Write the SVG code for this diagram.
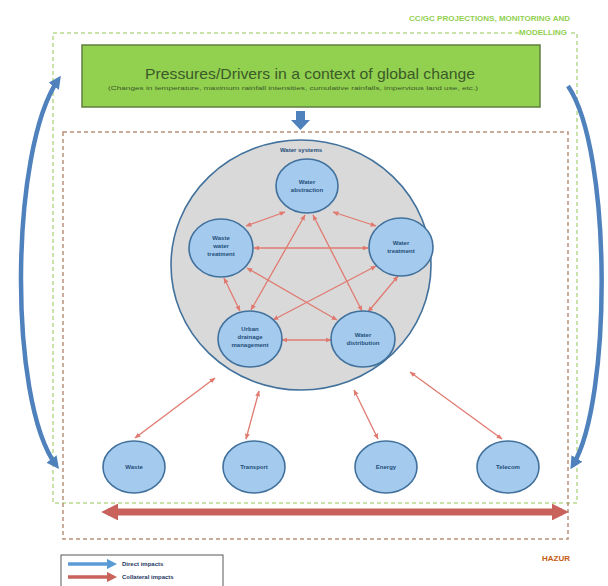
<svg xmlns="http://www.w3.org/2000/svg" width="608" height="586" viewBox="0 0 608 586">
<defs>
<style>
.lbl{font-family:"Liberation Sans",Arial,sans-serif;font-weight:bold;fill:#1f4e79;font-size:6px;text-anchor:middle}
.node{fill:#a4cbee;stroke:#41719c;stroke-width:1.6}
.rel{stroke:#e07a70;stroke-width:1.3;fill:none;marker-start:url(#rh);marker-end:url(#rh)}
</style>
<marker id="rh" viewBox="0 0 10 10" refX="9" refY="5" markerWidth="6" markerHeight="6" markerUnits="userSpaceOnUse" orient="auto-start-reverse"><path d="M0,1 L10,5 L0,9 z" fill="#e07a70"/></marker>
<marker id="bh" viewBox="0 0 10 10" refX="6" refY="5" markerWidth="2.8" markerHeight="2.8" orient="auto-start-reverse"><path d="M0,0 L10,5 L0,10 z" fill="#4f81bd"/></marker>
<marker id="bigr" viewBox="0 0 10 10" refX="6" refY="5" markerWidth="2.4" markerHeight="2.4" orient="auto-start-reverse"><path d="M0,0 L10,5 L0,10 z" fill="#c9625a"/></marker>
<marker id="legb" viewBox="0 0 10 10" refX="6" refY="5" markerWidth="3" markerHeight="3" orient="auto"><path d="M0,0 L10,5 L0,10 z" fill="#5b9bd5"/></marker>
<marker id="legr" viewBox="0 0 10 10" refX="6" refY="5" markerWidth="3" markerHeight="3" orient="auto"><path d="M0,0 L10,5 L0,10 z" fill="#c9625a"/></marker>
</defs>
<rect width="608" height="586" fill="#ffffff"/>

<!-- frames -->
<g id="ccgc-frame">
<rect x="53" y="33" width="524" height="470" fill="none" stroke="#b6d98f" stroke-width="1.5" stroke-dasharray="4 3"/>
<rect x="520" y="27" width="50" height="10" fill="#ffffff"/>
<text x="570" y="21" font-family="Liberation Sans,Arial,sans-serif" font-size="8" font-weight="bold" fill="#92d050" text-anchor="end">CC/GC PROJECTIONS, MONITORING AND</text>
<text x="567" y="35" font-family="Liberation Sans,Arial,sans-serif" font-size="8" font-weight="bold" fill="#92d050" text-anchor="end">MODELLING</text>
</g>
<g id="hazur-frame">
<rect x="63" y="132" width="505" height="407" fill="none" stroke="#b8927a" stroke-width="1.5" stroke-dasharray="4 3"/>
<text x="570" y="561" font-family="Liberation Sans,Arial,sans-serif" font-size="8" font-weight="bold" fill="#c55a11" text-anchor="end">HAZUR</text>
</g>

<g id="pressures">
<rect x="82" y="45" width="458" height="62" fill="#92d050" stroke="#5f7f3f" stroke-width="1.5"/>
<text x="310" y="79" font-family="Liberation Sans,Arial,sans-serif" font-size="15" fill="#3a5a28" text-anchor="middle" textLength="330" lengthAdjust="spacingAndGlyphs">Pressures/Drivers in a context of global change</text>
<text x="293" y="90" font-family="Liberation Sans,Arial,sans-serif" font-size="5.5" fill="#3a5a28" text-anchor="middle" textLength="370" lengthAdjust="spacingAndGlyphs">(Changes in temperature, maximum rainfall intensities, cumulative rainfalls, impervious land use, etc.)</text>
</g>

<g id="water-systems">
<ellipse cx="301" cy="265" rx="130" ry="125" fill="#d9d9d9" stroke="#41719c" stroke-width="1.6"/>
<text x="301" y="152" class="lbl">Water systems</text>
</g>

<g id="connectors">
<!-- blue -->
<polygon points="296,111 305,111 305,120 310,120 300.5,130 291,120 296,120" fill="#4f81bd"/>
<path d="M58,80 C10,150 8,400 56,465" fill="none" stroke="#4f81bd" stroke-width="4.5" marker-start="url(#bh)" marker-end="url(#bh)"/>
<path d="M568,86 C612,150 612,400 573,465" fill="none" stroke="#4f81bd" stroke-width="4.5" marker-end="url(#bh)"/>
<!-- inside -->
<line class="rel" x1="285" y1="212" x2="246" y2="226"/>
<line class="rel" x1="333" y1="212" x2="376" y2="226"/>
<line class="rel" x1="254" y1="248" x2="368" y2="248"/>
<line class="rel" x1="305" y1="215" x2="251" y2="310"/>
<line class="rel" x1="313" y1="215" x2="362" y2="311"/>
<line class="rel" x1="224" y1="278" x2="240" y2="311"/>
<line class="rel" x1="247" y1="268" x2="337" y2="320"/>
<line class="rel" x1="376" y1="266" x2="273" y2="320"/>
<line class="rel" x1="398" y1="276" x2="368" y2="312"/>
<line class="rel" x1="282" y1="340" x2="331" y2="340"/>
<!-- to sectors -->
<line class="rel" x1="215" y1="378" x2="135" y2="438"/>
<line class="rel" x1="259" y1="391" x2="246" y2="439"/>
<line class="rel" x1="354" y1="390" x2="378" y2="439"/>
<line class="rel" x1="410" y1="372" x2="502" y2="439"/>
<!-- big collateral -->
<line x1="108" y1="512" x2="562" y2="512" stroke="#c9625a" stroke-width="7" marker-start="url(#bigr)" marker-end="url(#bigr)"/>
</g>

<g id="water-abstraction"><ellipse class="node" cx="307" cy="186" rx="31" ry="27"/><text class="lbl" x="307" y="184">Water</text><text class="lbl" x="307" y="192">abstraction</text></g>
<g id="waste-water-treatment"><ellipse class="node" cx="221" cy="248" rx="32" ry="29"/><text class="lbl" x="221" y="240">Waste</text><text class="lbl" x="221" y="248">water</text><text class="lbl" x="221" y="256">treatment</text></g>
<g id="water-treatment"><ellipse class="node" cx="401" cy="247" rx="32" ry="29"/><text class="lbl" x="401" y="245">Water</text><text class="lbl" x="401" y="253">treatment</text></g>
<g id="urban-drainage"><ellipse class="node" cx="250" cy="339" rx="32" ry="28"/><text class="lbl" x="250" y="331">Urban</text><text class="lbl" x="250" y="339">drainage</text><text class="lbl" x="250" y="347">management</text></g>
<g id="water-distribution"><ellipse class="node" cx="363" cy="339" rx="32" ry="28"/><text class="lbl" x="363" y="337">Water</text><text class="lbl" x="363" y="345">distribution</text></g>

<g id="waste"><ellipse class="node" cx="134" cy="467" rx="31" ry="26"/><text class="lbl" x="134" y="469">Waste</text></g>
<g id="transport"><ellipse class="node" cx="254" cy="467" rx="31" ry="26"/><text class="lbl" x="254" y="469">Transport</text></g>
<g id="energy"><ellipse class="node" cx="386" cy="467" rx="31" ry="26"/><text class="lbl" x="386" y="469">Energy</text></g>
<g id="telecom"><ellipse class="node" cx="508" cy="467" rx="31" ry="26"/><text class="lbl" x="508" y="469">Telecom</text></g>

<g id="legend">
<rect x="61" y="555" width="162" height="34" fill="#ffffff" stroke="#595959" stroke-width="1"/>
<line x1="68" y1="564" x2="113" y2="564" stroke="#5b9bd5" stroke-width="3.5" marker-end="url(#legb)"/>
<line x1="68" y1="577" x2="113" y2="577" stroke="#c9625a" stroke-width="3.5" marker-end="url(#legr)"/>
<text x="122" y="566" font-family="Liberation Sans,Arial,sans-serif" font-size="6" font-weight="bold" fill="#1f3864">Direct impacts</text>
<text x="122" y="579" font-family="Liberation Sans,Arial,sans-serif" font-size="6" font-weight="bold" fill="#1f3864">Collateral impacts</text>
</g>
</svg>
